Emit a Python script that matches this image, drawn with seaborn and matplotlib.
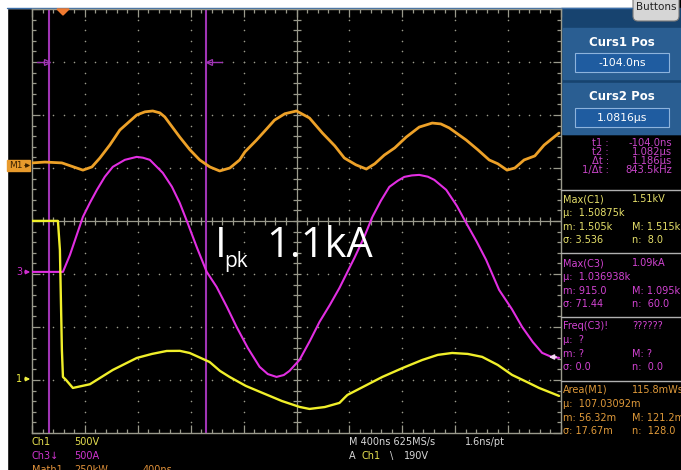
import numpy as np
import pandas as pd
import matplotlib
matplotlib.use("Agg")
import matplotlib.pyplot as plt
import seaborn as sns
from matplotlib.patches import Rectangle, FancyBboxPatch, Polygon

# waveforms, time in microseconds
m1_t = [-0.234, -0.136, -0.008, 0.151, 0.219, 0.279, 0.355, 0.430, 0.558, 0.620,
        0.679, 0.733, 0.770, 0.883, 0.960, 1.034, 1.111, 1.185, 1.262, 1.336,
        1.376, 1.464, 1.534, 1.600, 1.678, 1.766, 1.864, 1.962, 2.056, 2.128,
        2.215, 2.294, 2.358, 2.430, 2.509, 2.596, 2.694, 2.792, 2.857, 2.921,
        3.049, 3.137, 3.223, 3.288, 3.358, 3.417, 3.487, 3.568, 3.638, 3.751]
m1_kw = [9, 13, 9, -25, -10, 32, 94, 164, 235, 250,
         254, 245, 226, 131, 71, 23, -10, -29, -15, 23,
         61, 117, 165, 211, 241, 254, 221, 150, 89, 32,
         0, -20, 5, 46, 80, 131, 178, 197, 193, 174,
         117, 71, 23, 5, -25, -15, 23, 42, 93, 150]

ch3_t = [-0.234, 0.0, 0.053, 0.151, 0.204, 0.257, 0.317, 0.377, 0.468, 0.558,
         0.605, 0.657, 0.755, 0.824, 0.883, 0.945, 1.011, 1.087, 1.162, 1.240,
         1.313, 1.398, 1.487, 1.549, 1.615, 1.670, 1.713, 1.789, 1.867, 1.940,
         2.018, 2.091, 2.204, 2.275, 2.340, 2.404, 2.468, 2.532, 2.581, 2.638,
         2.694, 2.759, 2.808, 2.898, 2.978, 3.049, 3.129, 3.200, 3.298, 3.394,
         3.472, 3.553, 3.623, 3.696, 3.751]
ch3_amps = [0, 0, 160, 519, 652, 774, 898, 991, 1057, 1085,
            1077, 1057, 934, 803, 651, 454, 236, 0, -142, -331,
            -519, -718, -896, -964, -991, -973, -934, -830, -652, -472,
            -312, -151, 132, 321, 519, 671, 802, 860, 896, 910,
            915, 898, 868, 774, 624, 462, 284, 113, -170, -350,
            -519, -662, -764, -803, -811]

ch1_t = [-0.234, -0.038, -0.023, -0.008, 0.0, 0.023, 0.075, 0.204, 0.377, 0.558,
         0.673, 0.785, 0.884, 0.958, 1.109, 1.187, 1.260, 1.383, 1.509, 1.655,
         1.789, 1.864, 1.980, 2.091, 2.128, 2.151, 2.283, 2.415, 2.570, 2.717,
         2.834, 2.943, 3.061, 3.170, 3.288, 3.396, 3.507, 3.600, 3.751]
ch1_volts = [1491, 1491, 1217, 274, 19, -9, -85, -50, 85, 198,
             236, 264, 265, 245, 160, 76, 19, -66, -132, -208,
             -264, -283, -265, -226, -179, -151, -66, 19, 104, 179,
             227, 245, 236, 208, 132, 38, -28, -85, -160]

# scope settings: units per division and ground marker position (divisions)
CH1_SCALE, CH1_POS = 500, -2.98
CH3_SCALE, CH3_POS = 500, -0.96
M1_SCALE, M1_POS = 250, 1.06
T_LEFT, T_DIV = -0.234, 0.4
cursor_t = [-0.104, 1.0816]

# measurement panel text
meas_blocks = [
    ("#e6e06a", [("Max(C1)", "1.51kV"), ("µ:  1.50875k", ""), ("m: 1.505k", "M: 1.515k"), ("σ: 3.536", "n:  8.0")]),
    ("#d243d2", [("Max(C3)", "1.09kA"), ("µ:  1.036938k", ""), ("m: 915.0", "M: 1.095k"), ("σ: 71.44", "n:  60.0")]),
    ("#d243d2", [("Freq(C3)!", "??????"), ("µ:  ?", ""), ("m: ?", "M: ?"), ("σ: 0.0", "n:  0.0")]),
    ("#e09a3a", [("Area(M1)", "115.8mWs"), ("µ:  107.03092m", ""), ("m: 56.32m", "M: 121.2m"), ("σ: 17.67m", "n:  128.0")]),
]
block_y = [199, 263, 326, 390]
cursor_labels = ["t1 :", "t2 :", "Δt :", "1/Δt :"]
cursor_values = ["-104.0ns", "1.082µs", "1.186µs", "843.5kHz"]

sns.set_theme(style="dark")
plt.rcParams['font.family'] = ['DejaVu Sans']

W, H = 681, 470
fig = plt.figure(figsize=(W / 100, H / 100), dpi=100, facecolor="black")

# pixel-space background layer
bg = fig.add_axes([0, 0, 1, 1], zorder=0)
bg.set_xlim(0, W); bg.set_ylim(H, 0); bg.axis("off")
bg.add_patch(Rectangle((0, 0), W, H, color="black"))
bg.add_patch(Rectangle((0, 0), 7, H, color="white"))
bg.add_patch(Rectangle((0, 0), 632, 8, color="white"))
bg.plot([7, 632], [8, 8], color="#3b6ea8", lw=1)
# cursor control panel
bg.add_patch(Rectangle((561, 8), 120, 126, color="#17436f"))
for top, title, val in [(28, "Curs1 Pos", "-104.0ns"), (83, "Curs2 Pos", "1.0816µs")]:
    bg.add_patch(Rectangle((563, top), 118, 51, color="#2a5e92"))
    bg.add_patch(Rectangle((575, top + 25), 94, 19, facecolor="#1f5ca0", edgecolor="#8db3dc", lw=0.8))
    bg.text(622, top + 14, title, color="white", fontsize=8.5, fontweight="bold", ha="center", va="center")
    bg.text(622, top + 35, val, color="white", fontsize=7.8, ha="center", va="center")
bg.add_patch(FancyBboxPatch((633, -6), 46, 27, boxstyle="round,pad=0,rounding_size=5",
                            facecolor="#d6d6d6", edgecolor="#7a7a7a", lw=0.8))
bg.text(656, 9.5, "Buttons", color="#222222", fontsize=7.5, ha="center", va="baseline")

gridc = "#9a9a8c"
ax = fig.add_axes([32 / W, 1 - 433 / H, 529 / W, 424 / H], zorder=1)
ax.set_facecolor("black")

# graticule
minor_x = T_LEFT + np.arange(51) * T_DIV / 5
minor_y = np.arange(-4, 4.001, 0.2)
for i in range(1, 10):
    if i != 5:
        ax.scatter(np.full(minor_y.size, T_LEFT + i * T_DIV), minor_y, s=1.3, color=gridc, lw=0, zorder=1)
for j in range(-3, 4):
    if j != 0:
        ax.scatter(minor_x, np.full(minor_x.size, j), s=1.3, color=gridc, lw=0, zorder=1)
xc = T_LEFT + 5 * T_DIV
ax.axvline(xc, color=gridc, lw=0.9, zorder=1)
ax.axhline(0, color=gridc, lw=0.9, zorder=1)
ax.plot(minor_x, np.zeros(minor_x.size), ls="none", marker="|", ms=6, mew=0.9, color=gridc, zorder=1)
ax.plot(np.full(minor_y.size, xc), minor_y, ls="none", marker="_", ms=6, mew=0.9, color=gridc, zorder=1)

# cursors
curc = "#a034b4"
for t in cursor_t:
    ax.axvline(t, color=curc, lw=1.5, zorder=2)
ax.plot([cursor_t[0] - 0.09, cursor_t[0] - 0.01], [3, 3], color=curc, lw=1, zorder=2)
ax.plot([cursor_t[0] - 0.018], [3], marker=">", ms=5, mfc="none", mec=curc, mew=0.9, zorder=2)
ax.plot([cursor_t[1] + 0.01, cursor_t[1] + 0.12], [3, 3], color=curc, lw=1, zorder=2)
ax.plot([cursor_t[1] + 0.02], [3], marker="<", ms=5, mfc="none", mec=curc, mew=0.9, zorder=2)

# traces
m1 = pd.DataFrame({"t": m1_t, "div": np.array(m1_kw) / M1_SCALE + M1_POS})
ch3 = pd.DataFrame({"t": ch3_t, "div": np.array(ch3_amps) / CH3_SCALE + CH3_POS})
ch1 = pd.DataFrame({"t": ch1_t, "div": np.array(ch1_volts) / CH1_SCALE + CH1_POS})
sns.lineplot(data=m1, x="t", y="div", ax=ax, color="#eda128", lw=2.0, sort=False, estimator=None, zorder=3)
sns.lineplot(data=ch3, x="t", y="div", ax=ax, color="#e22ee2", lw=1.5, sort=False, estimator=None, zorder=3)
sns.lineplot(data=ch1, x="t", y="div", ax=ax, color="#f0ef2a", lw=1.7, sort=False, estimator=None, zorder=3)

ax.set_xlim(T_LEFT, T_LEFT + 10 * T_DIV)
ax.set_ylim(-4, 4)
ax.set_xticks(T_LEFT + np.arange(11) * T_DIV)
ax.set_xticks(minor_x, minor=True)
ax.set_yticks(np.arange(-4, 5))
ax.set_yticks(minor_y, minor=True)
ax.tick_params(which="both", direction="in", colors=gridc, top=True, right=True,
               bottom=True, left=True, labelbottom=False, labelleft=False, width=0.9)
ax.tick_params(which="major", length=6)
ax.tick_params(which="minor", length=3)
ax.set_xlabel(""); ax.set_ylabel("")
ax.grid(False)
for sp in ax.spines.values():
    sp.set_color(gridc); sp.set_linewidth(1)

# pixel-space overlay for markers and readouts
ov = fig.add_axes([0, 0, 1, 1], zorder=5)
ov.set_xlim(0, W); ov.set_ylim(H, 0); ov.axis("off")
ov.patch.set_visible(False)

ov.add_patch(Polygon([[57, 9], [69, 9], [63, 15]], color="#f07a30"))
ov.add_patch(Rectangle((7, 160), 23, 11, color="#e89a2c"))
ov.text(9, 165.5, "M1", color="#3a2000", fontsize=6.5, va="center")
ov.annotate("", xy=(33, 165.5), xytext=(22, 165.5),
            arrowprops=dict(arrowstyle="-|>", color="#3a2000", lw=0.8, mutation_scale=6))
ov.text(16, 272, "3", color="#d02ed0", fontsize=7, va="center")
ov.annotate("", xy=(33, 272), xytext=(22, 272),
            arrowprops=dict(arrowstyle="-|>", color="#d02ed0", lw=1, mutation_scale=6))
ov.text(16, 379, "1", color="#eeee40", fontsize=7, va="center")
ov.annotate("", xy=(33, 379), xytext=(22, 379),
            arrowprops=dict(arrowstyle="-|>", color="#eeee40", lw=1, mutation_scale=6))
ov.annotate("", xy=(546, 357), xytext=(559, 357),
            arrowprops=dict(arrowstyle="-|>", color="#f4d8f4", lw=1.2, mutation_scale=7))

ov.text(215, 257, "I", color="white", fontsize=30, family=["Open Sans", "DejaVu Sans"], va="baseline")
ov.text(224, 267, "pk", color="white", fontsize=15, family=["Open Sans", "DejaVu Sans"], va="baseline")
ov.text(266, 257, "1.1kA", color="white", fontsize=30, family=["Open Sans", "DejaVu Sans"], va="baseline")

# cursor readouts
for k, (lab, val) in enumerate(zip(cursor_labels, cursor_values)):
    y = 143 + 9 * k
    ov.text(609, y, lab, color="#c745c7", fontsize=7.2, ha="right", va="center")
    ov.text(672, y, val, color="#c745c7", fontsize=7.2, ha="right", va="center")

# measurement blocks
for sy in [190, 253, 317, 381]:
    ov.plot([561, 681], [sy, sy], color="#b0b0b0", lw=1)
for (col, rows), y0 in zip(meas_blocks, block_y):
    for k, (a, b) in enumerate(rows):
        y = y0 + k * 13.8
        ov.text(563, y, a, color=col, fontsize=7, va="center")
        if b:
            ov.text(632, y, b, color=col, fontsize=7, va="center")

# bottom status line
ov.text(32, 442, "Ch1", color="#e6e050", fontsize=7, va="center")
ov.text(74, 442, "500V", color="#e6e050", fontsize=7, va="center")
ov.text(32, 456, "Ch3↓", color="#d035d0", fontsize=7, va="center")
ov.text(74, 456, "500A", color="#d035d0", fontsize=7, va="center")
ov.text(32, 470, "Math1", color="#e0913a", fontsize=7, va="center")
ov.text(74, 470, "250kW", color="#e0913a", fontsize=7, va="center")
ov.text(143, 470, "400ns", color="#e0913a", fontsize=7, va="center")
ov.text(349, 442, "M 400ns 625MS/s", color="#d8d8d8", fontsize=7, va="center")
ov.text(465, 442, "1.6ns/pt", color="#d8d8d8", fontsize=7, va="center")
ov.text(349, 456, "A", color="#d8d8d8", fontsize=7, va="center")
ov.text(362, 456, "Ch1", color="#e6e050", fontsize=7, va="center")
ov.text(390, 456, "\\", color="#d8d8d8", fontsize=7, va="center")
ov.text(404, 456, "190V", color="#d8d8d8", fontsize=7, va="center")

fig.savefig("out.png", dpi=100, facecolor="black")
